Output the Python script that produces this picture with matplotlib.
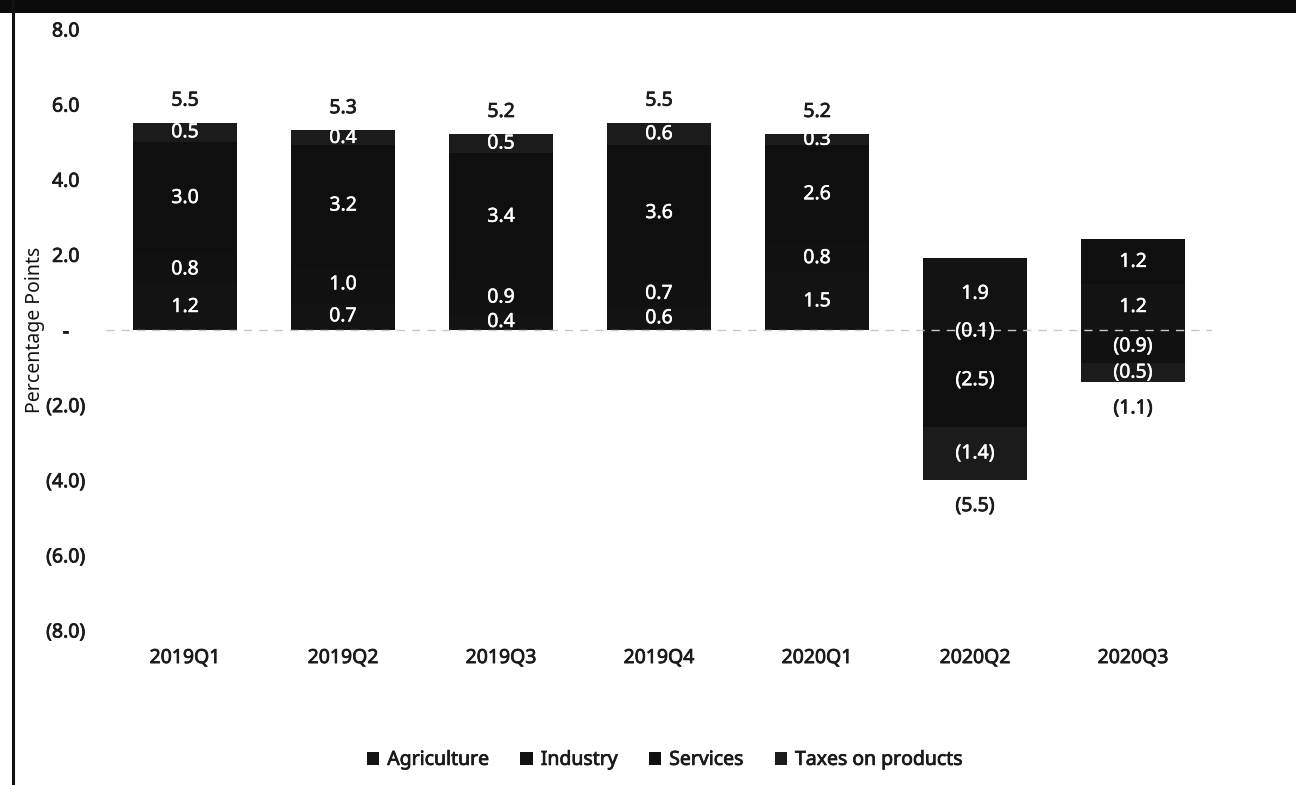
import matplotlib
matplotlib.use('Agg')
import matplotlib.pyplot as plt
import matplotlib.patheffects as pe
import numpy as np
from matplotlib.patches import Patch, Rectangle
from matplotlib.lines import Line2D

plt.rcParams['font.family'] = ['Noto Sans', 'DejaVu Sans']

quarters = ['2019Q1', '2019Q2', '2019Q3', '2019Q4', '2020Q1', '2020Q2', '2020Q3']
agriculture = [1.2, 0.7, 0.4, 0.6, 1.5, 1.9, 1.2]
industry = [0.8, 1.0, 0.9, 0.7, 0.8, -0.1, -0.9]
services = [3.0, 3.2, 3.4, 3.6, 2.6, -2.5, 1.2]
taxes = [0.5, 0.4, 0.5, 0.6, 0.3, -1.4, -0.5]
totals = [5.5, 5.3, 5.2, 5.5, 5.2, -5.5, -1.1]
series_names = ['Agriculture', 'Industry', 'Services', 'Taxes on products']
yticks = [8, 6, 4, 2, 0, -2, -4, -6, -8]

colors = ['#131313', '#111111', '#0f0f0f', '#1b1b1b']
FS = 14
DARK = '#1a1a1a'


def thick(color, w=0.55):
    return [pe.withStroke(linewidth=w, foreground=color)]


def fmt(v):
    if abs(v) < 1e-9:
        return '-'
    if v > 0:
        return f'{v:.1f}'
    return f'({-v:.1f})'


fig = plt.figure(figsize=(12.96, 7.85), dpi=100)
ax = fig.add_axes([106 / 1296, 1 - 630 / 785, (1212 - 106) / 1296, (630 - 29) / 785])

x = np.arange(len(quarters))
width = 0.66
pos_base = np.zeros(len(quarters))
neg_base = np.zeros(len(quarters))
series = [agriculture, industry, services, taxes]
for vals, name, col in zip(series, series_names, colors):
    vals = np.array(vals, dtype=float)
    bottoms = np.where(vals >= 0, pos_base, neg_base)
    ax.bar(x, vals, width, bottom=bottoms, color=col, label=name, zorder=2)
    for xi, v, b in zip(x, vals, bottoms):
        ax.text(xi, b + v / 2, fmt(v), ha='center', va='center', color='white',
                fontsize=FS, zorder=4, path_effects=thick('white', 0.35))
    pos_base = pos_base + np.where(vals >= 0, vals, 0)
    neg_base = neg_base + np.where(vals < 0, vals, 0)

for xi, t, top, bot in zip(x, totals, pos_base, neg_base):
    if t >= 0:
        ax.annotate(fmt(t), (xi, top), xytext=(0, 16), textcoords='offset points',
                    ha='center', va='center', fontsize=FS, color=DARK,
                    path_effects=thick(DARK))
    else:
        ax.annotate(fmt(t), (xi, bot), xytext=(0, -19), textcoords='offset points',
                    ha='center', va='center', fontsize=FS, color=DARK,
                    path_effects=thick(DARK))

ax.axhline(0, color='#c8c8c8', linestyle=(0, (6, 5)), linewidth=1.0, zorder=3)

ax.set_xlim(-0.5, len(quarters) - 0.5)
ax.set_ylim(-8, 8)
ax.set_yticks(yticks)
ax.set_yticklabels([fmt(v) for v in yticks])
ax.set_xticks(x)
ax.set_xticklabels(quarters)
ax.tick_params(axis='y', length=0, pad=29, labelsize=FS, labelcolor=DARK)
ax.tick_params(axis='x', length=0, pad=13, labelsize=FS, labelcolor=DARK)
for lab in ax.get_yticklabels():
    lab.set_horizontalalignment('center')
for lab in ax.get_yticklabels() + ax.get_xticklabels():
    lab.set_path_effects(thick(DARK))
for s in ax.spines.values():
    s.set_visible(False)
ax.set_ylabel('Percentage Points', fontsize=14, color='#111111')
ax.yaxis.set_label_coords(-0.055, 0.5)

handles = [Patch(facecolor=c, edgecolor='none') for c in colors]
leg = fig.legend(handles, series_names, loc='center', bbox_to_anchor=(0.513, 0.032),
                 ncol=4, frameon=False, fontsize=FS, handlelength=0.65, handleheight=0.65,
                 handletextpad=0.4, columnspacing=1.6)
for t in leg.get_texts():
    t.set_color(DARK)
    t.set_path_effects(thick(DARK))

fig.add_artist(Rectangle((0, 1 - 13 / 785), 1, 13 / 785, transform=fig.transFigure,
                         facecolor='#0a0a0a', edgecolor='none'))
fig.add_artist(Line2D([12.5 / 1296, 12.5 / 1296], [0, 1], transform=fig.transFigure,
                      color='#111111', linewidth=2.2))

fig.savefig('out.png', dpi=100)
